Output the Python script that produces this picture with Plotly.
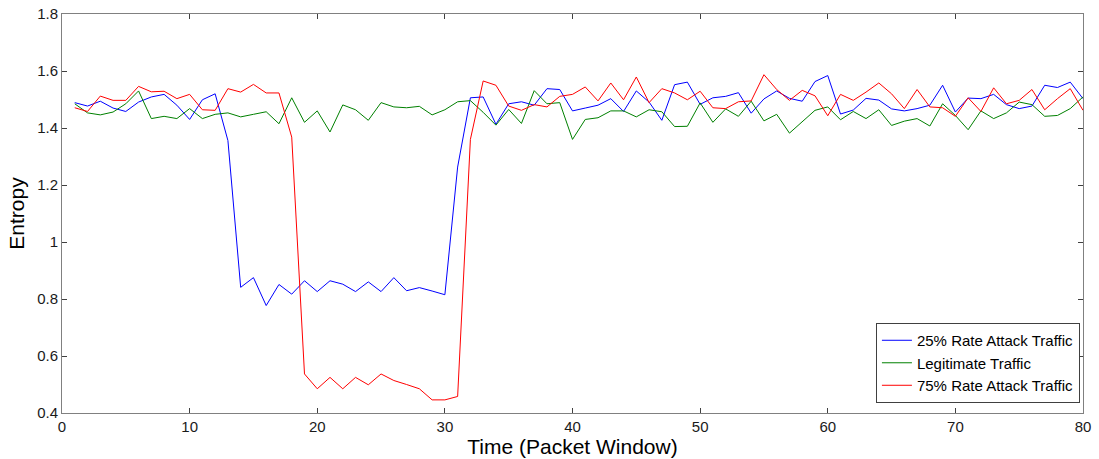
import plotly.graph_objects as go

time = list(range(1, 81))

rate25 = [1.489, 1.477, 1.494, 1.470, 1.458, 1.491, 1.509, 1.518, 1.480, 1.430,
          1.499, 1.520, 1.356, 0.841, 0.875, 0.777, 0.851, 0.817, 0.864, 0.826,
          0.864, 0.852, 0.826, 0.860, 0.826, 0.875, 0.829, 0.840, 0.828, 0.815,
          1.263, 1.506, 1.509, 1.413, 1.485, 1.492, 1.480, 1.538, 1.535, 1.460,
          1.470, 1.480, 1.503, 1.458, 1.530, 1.491, 1.427, 1.552, 1.561, 1.483,
          1.506, 1.511, 1.524, 1.452, 1.502, 1.530, 1.504, 1.494, 1.563, 1.584,
          1.449, 1.463, 1.504, 1.498, 1.467, 1.460, 1.468, 1.480, 1.550, 1.456,
          1.505, 1.503, 1.518, 1.482, 1.468, 1.477, 1.550, 1.542, 1.561, 1.503]

legit = [1.485, 1.453, 1.446, 1.456, 1.485, 1.530, 1.433, 1.441, 1.433, 1.468,
         1.433, 1.448, 1.453, 1.439, 1.448, 1.457, 1.415, 1.506, 1.420, 1.460,
         1.386, 1.481, 1.464, 1.427, 1.489, 1.474, 1.471, 1.476, 1.446, 1.464,
         1.492, 1.496, 1.455, 1.410, 1.465, 1.416, 1.531, 1.485, 1.489, 1.360,
         1.430, 1.436, 1.460, 1.460, 1.439, 1.464, 1.457, 1.405, 1.406, 1.488,
         1.420, 1.467, 1.441, 1.494, 1.425, 1.448, 1.382, 1.422, 1.462, 1.474,
         1.429, 1.458, 1.433, 1.464, 1.409, 1.424, 1.433, 1.407, 1.485, 1.444,
         1.394, 1.460, 1.433, 1.453, 1.491, 1.482, 1.441, 1.444, 1.468, 1.509]

rate75 = [1.471, 1.458, 1.512, 1.497, 1.497, 1.546, 1.527, 1.529, 1.503, 1.518,
          1.464, 1.462, 1.538, 1.526, 1.553, 1.523, 1.523, 1.368, 0.537, 0.485,
          0.525, 0.485, 0.525, 0.499, 0.537, 0.514, 0.500, 0.485, 0.446, 0.446,
          0.458, 1.360, 1.565, 1.550, 1.477, 1.462, 1.482, 1.474, 1.511, 1.518,
          1.544, 1.495, 1.558, 1.499, 1.579, 1.489, 1.538, 1.523, 1.499, 1.529,
          1.471, 1.468, 1.492, 1.495, 1.587, 1.535, 1.497, 1.532, 1.513, 1.443,
          1.518, 1.497, 1.526, 1.558, 1.520, 1.468, 1.535, 1.474, 1.471, 1.441,
          1.506, 1.458, 1.541, 1.485, 1.497, 1.535, 1.464, 1.503, 1.538, 1.462]

names = ["25% Rate Attack Traffic", "Legitimate Traffic", "75% Rate Attack Traffic"]
colors = ["#0000ff", "#008000", "#ff0000"]

fig = go.Figure()
for name, ys, c in zip(names, [rate25, legit, rate75], colors):
    fig.add_trace(go.Scatter(x=time, y=ys, mode="lines", name=name,
                             line=dict(color=c, width=1)))

FONT = "Liberation Sans, Arial"
axis_common = dict(showline=True, linecolor="#808080", linewidth=1, mirror="ticks",
                   ticks="inside", ticklen=5, tickcolor="#404040", showgrid=False,
                   zeroline=False, automargin=False,
                   tickfont=dict(family=FONT, size=15, color="#1a1a1a"))

fig.update_layout(
    width=1099, height=459,
    margin=dict(l=62, r=16, t=14, b=46),
    paper_bgcolor="white", plot_bgcolor="white",
    font=dict(family=FONT, color="#000"),
    xaxis=dict(range=[0, 80], dtick=10, tick0=0,
               title=dict(text="Time (Packet Window)", font=dict(size=21), standoff=2),
               **axis_common),
    yaxis=dict(range=[0.4, 1.8], dtick=0.2, tick0=0.4,
               title=dict(text="Entropy", font=dict(size=21), standoff=6),
               **axis_common),
    legend=dict(x=0.997, y=0.025, xanchor="right", yanchor="bottom",
                bordercolor="#404040", borderwidth=1, bgcolor="white",
                font=dict(size=15), tracegroupgap=0, itemwidth=30),
    showlegend=True,
)

fig.write_html("out.html")
